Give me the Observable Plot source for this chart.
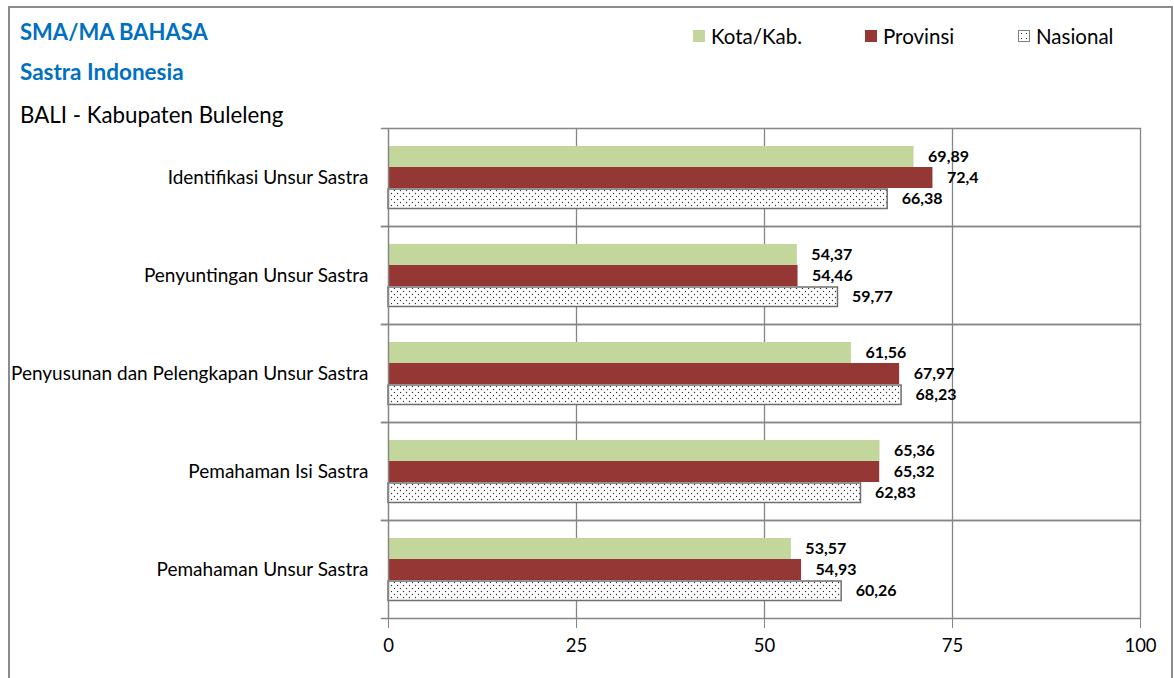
<!DOCTYPE html>
<html>
<head>
<meta charset="utf-8">
<script src="https://cdn.jsdelivr.net/npm/d3@7"></script>
<script src="https://cdn.jsdelivr.net/npm/@observablehq/plot@0.6"></script>
<style>
  body { margin: 0; background: #fff; }
  #wrap { position: relative; width: 1174px; height: 678px; overflow: hidden; font-family: Lato, "Open Sans", sans-serif; }
  #wrap svg { position: absolute; left: 0; top: 0; }
  .border { position: absolute; left: 8px; top: 6px; width: 1161px; height: 700px; border: 2px solid #8c8c8c; }
  .t1, .t2 { position: absolute; left: 20px; color: #0070C0; font-weight: bold; white-space: nowrap; line-height: 26px; }
  .t1 { top: 19px; font-size: 22px; }
  .t2 { top: 59px; font-size: 22.5px; }
  .t3 { position: absolute; left: 20px; top: 102px; font-size: 22.3px; line-height: 26px; color: #000; white-space: nowrap; }
  .lg { position: absolute; top: 24px; font-size: 20.5px; line-height: 24px; color: #000; white-space: nowrap; display: flex; align-items: center; }
  .sw { width: 12px; height: 12px; margin-right: 6px; box-sizing: border-box; }
</style>
</head>
<body>
<div id="wrap">
  <div class="border"></div>
  <div class="t1">SMA/MA BAHASA</div>
  <div class="t2">Sastra Indonesia</div>
  <div class="t3">BALI - Kabupaten Buleleng</div>
  <div class="lg" style="left:693px"><span class="sw" style="background:#C3D69B"></span>Kota/Kab.</div>
  <div class="lg" style="left:865px"><span class="sw" style="background:#953735"></span>Provinsi</div>
  <div class="lg" style="left:1018px"><span class="sw" style="border:1.5px solid #808080;background:radial-gradient(circle, #333 0.8px, transparent 1px) 0 0/5px 5px #fff"></span>Nasional</div>
</div>
<script>
const categories = [
  "Identifikasi Unsur Sastra",
  "Penyuntingan Unsur Sastra",
  "Penyusunan dan Pelengkapan Unsur Sastra",
  "Pemahaman Isi Sastra",
  "Pemahaman Unsur Sastra"
];
const series = ["Kota/Kab.", "Provinsi", "Nasional"];
const kota = [69.89, 54.37, 61.56, 65.36, 53.57];
const provinsi = [72.4, 54.46, 67.97, 65.32, 54.93];
const nasional = [66.38, 59.77, 68.23, 62.83, 60.26];
const xTicks = [0, 25, 50, 75, 100];

const valuesBySeries = [kota, provinsi, nasional];
const data = categories.flatMap((c, i) => series.map((s, j) => ({cat: c, s, v: valuesBySeries[j][i]})));
const fmt = v => String(v).replace(".", ",");
const gridColor = "#868686";

const chart = Plot.plot({
  width: 1174,
  height: 678,
  marginLeft: 388,
  marginRight: 34,
  marginTop: 128,
  marginBottom: 60,
  style: {fontFamily: "Lato, 'Open Sans', sans-serif", fontSize: "16px", color: "#000", background: "transparent"},
  x: {domain: [0, 100]},
  fy: {domain: categories, padding: 0, label: null},
  y: {domain: series, paddingInner: 0, paddingOuter: 0.75, axis: null},
  marks: [
    Plot.ruleX(xTicks.slice(1), {stroke: gridColor, strokeWidth: 1.3}),
    Plot.frame({anchor: "top", stroke: gridColor, strokeWidth: 1.3, insetLeft: -7}),
    Plot.frame({anchor: "bottom", stroke: gridColor, strokeWidth: 1.3, insetLeft: -7}),
    Plot.barX(data.filter(d => d.s === series[0]), {x: "v", y: "s", fy: "cat", fill: "#C3D69B"}),
    Plot.barX(data.filter(d => d.s === series[1]), {x: "v", y: "s", fy: "cat", fill: "#953735"}),
    Plot.barX(data.filter(d => d.s === series[2]), {x: "v", y: "s", fy: "cat", fill: "url(#dots)", stroke: "#6f6f6f", strokeWidth: 1.5, insetTop: 1, insetBottom: 0.5}),
    Plot.ruleX([0], {stroke: gridColor, strokeWidth: 1.5}),
    Plot.text(data, {x: "v", y: "s", fy: "cat", text: d => fmt(d.v), textAnchor: "start", dx: 14, fontWeight: "bold", fontSize: 16, fill: "#000"}),
    Plot.axisFy({anchor: "left", tickSize: 0, tickPadding: 20, label: null, fontSize: 19}),
    Plot.axisX({ticks: xTicks, tickSize: 10, tickPadding: 10, label: null, fontSize: 18.5, stroke: gridColor, tickFormat: d => String(d)})
  ]
});

const defs = `<defs><pattern id="dots" patternUnits="userSpaceOnUse" width="6" height="6">
  <rect width="6" height="6" fill="#fff"/>
  <circle cx="1.5" cy="1.5" r="0.7" fill="#333"/>
  <circle cx="4.5" cy="4.5" r="0.7" fill="#333"/>
</pattern></defs>`;
chart.insertAdjacentHTML("afterbegin", defs);
document.getElementById("wrap").appendChild(chart);
</script>
</body>
</html>
